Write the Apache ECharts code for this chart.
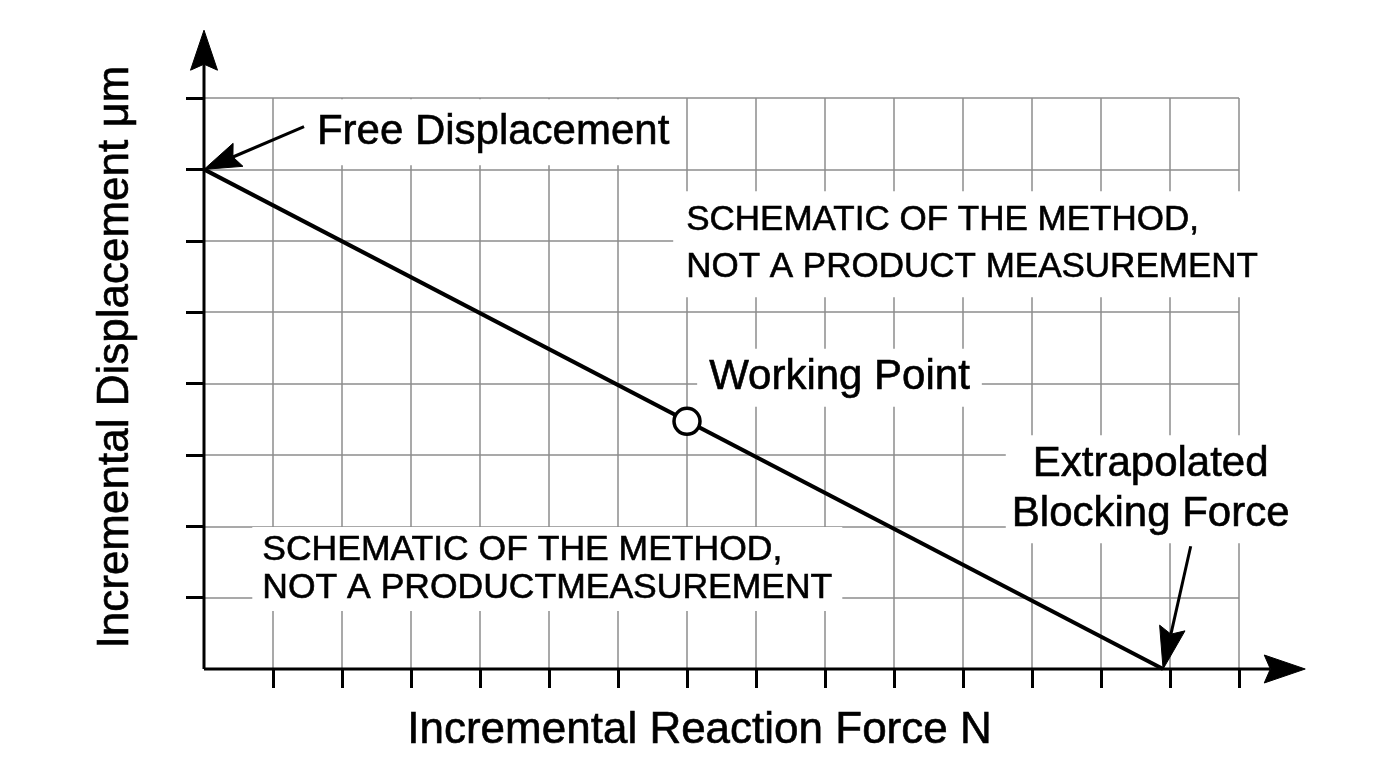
<!DOCTYPE html>
<html>
<head>
<meta charset="utf-8">
<script src="https://cdn.jsdelivr.net/npm/echarts@6/dist/echarts.min.js"></script>
<style>
html,body{margin:0;padding:0;background:#fff;}
#chart{width:1376px;height:768px;}
</style>
</head>
<body>
<div id="chart"></div>
<script>
// ---- data (in axis units) ----
const xTicks = [1,2,3,4,5,6,7,8,9,10,11,12,13,14,15];
const yTicks = [1,2,3,4,5,6,7,8];
const freeDisplacement = 7;      // y-intercept
const blockingForce = 13.9;      // x-intercept
const workingPoint = [7, 3.47];
const loadLineX = [0, blockingForce];
const loadLineY = [freeDisplacement, 0];

// arrows: [fromX, fromY, toX(tip), toY(tip)]
const xAxisArrow = [0, 0, 15.96, 0];
const yAxisArrow = [0, 0, 0, 8.95];
const freeArrow = [1.45, 7.6, 0, freeDisplacement];
const blockArrow = [14.3, 1.72, blockingForce, 0];

const labelTexts = {
  free: 'Free Displacement',
  note1: 'SCHEMATIC OF THE METHOD,\nNOT A PRODUCT MEASUREMENT',
  working: 'Working Point',
  blocking: 'Extrapolated\nBlocking Force',
  note2: 'SCHEMATIC OF THE METHOD,\nNOT A PRODUCTMEASUREMENT'
};
const labelAnchors = {
  free: [4.19, 7.52],
  note1: [6.8, 5.95],
  working: [9.21, 4.08],
  blocking: [13.72, 2.52],
  note2: [0.7, 1.40]
};

// ---- styles ----
const FONT = '"Liberation Sans", Arial, Helvetica, sans-serif';
const arrowStyles = [
  {head: 41, width: 28, lw: 3},   // x axis
  {head: 40, width: 27, lw: 3},   // y axis
  {head: 37, width: 25, lw: 3},   // free displacement pointer
  {head: 42, width: 26, lw: 3}    // blocking force pointer
];

const chart = echarts.init(document.getElementById('chart'), null, {renderer: 'canvas'});

function textLabel(key, align, lineHeight, fontSize, padding) {
  return {
    value: labelAnchors[key],
    label: {
      show: true,
      position: 'inside',
      formatter: labelTexts[key],
      align: align,
      verticalAlign: 'middle',
      fontFamily: FONT,
      fontSize: fontSize,
      lineHeight: lineHeight,
      color: '#000',
      textBorderColor: '#000',
      textBorderWidth: 0.6,
      backgroundColor: '#fff',
      padding: padding
    }
  };
}

function renderArrow(params, api) {
  const st = arrowStyles[params.dataIndex];
  const p0 = api.coord([api.value(0), api.value(1)]);
  const p1 = api.coord([api.value(2), api.value(3)]);
  const dx = p1[0] - p0[0], dy = p1[1] - p0[1];
  const L = Math.sqrt(dx * dx + dy * dy);
  const ux = dx / L, uy = dy / L;
  const nx = -uy, ny = ux;
  const bx = p1[0] - ux * st.head, by = p1[1] - uy * st.head;
  const mx = p1[0] - ux * st.head * 0.85, my = p1[1] - uy * st.head * 0.85;
  const hw = st.width / 2;
  return {
    type: 'group',
    children: [
      {
        type: 'line',
        shape: {x1: p0[0], y1: p0[1], x2: mx, y2: my},
        style: {stroke: '#000', lineWidth: st.lw}
      },
      {
        type: 'polygon',
        shape: {points: [
          [p1[0], p1[1]],
          [bx + nx * hw, by + ny * hw],
          [mx, my],
          [bx - nx * hw, by - ny * hw]
        ]},
        style: {fill: '#000', stroke: '#000', lineWidth: 1}
      }
    ]
  };
}

const option = {
  animation: false,
  backgroundColor: '#fff',
  grid: {left: 204, right: 137, top: 98, bottom: 99, containLabel: false},
  xAxis: {
    type: 'value', min: 0, max: 15, interval: 1,
    name: 'Incremental Reaction Force N',
    nameLocation: 'middle', nameGap: 40,
    nameTextStyle: {fontFamily: FONT, fontSize: 44, color: '#000', padding: [0, 44, 0, 0],
      textBorderColor: '#000', textBorderWidth: 0.6},
    axisLine: {show: false},
    axisTick: {show: true, inside: false, length: 19, customValues: xTicks,
      lineStyle: {color: '#000', width: 3}},
    axisLabel: {show: false},
    splitLine: {show: true, lineStyle: {color: '#8c8c8c', width: 1.5}}
  },
  yAxis: {
    type: 'value', min: 0, max: 8, interval: 1,
    name: 'Incremental Displacement \u03bcm',
    nameLocation: 'middle', nameGap: 66, nameRotate: 90,
    nameTextStyle: {fontFamily: FONT, fontSize: 44, color: '#000', padding: [0, 0, 0, 53],
      textBorderColor: '#000', textBorderWidth: 0.6},
    axisLine: {show: false},
    axisTick: {show: true, inside: false, length: 18, customValues: yTicks,
      lineStyle: {color: '#000', width: 3}},
    axisLabel: {show: false},
    splitLine: {show: true, lineStyle: {color: '#8c8c8c', width: 1.5}}
  },
  series: [
    {
      name: 'labels',
      type: 'scatter',
      symbolSize: 0,
      silent: true,
      z: 3,
      itemStyle: {opacity: 1},
      data: [
        textLabel('free', 'center', 50, 42, [8, 12]),
        textLabel('note1', 'left', 47, 35, [6, 13]),
        textLabel('working', 'center', 50, 42, [4, 12]),
        textLabel('blocking', 'center', 50, 42, [4, 6]),
        textLabel('note2', 'left', 38, 35.5, [4, 10])
      ]
    },
    {
      name: 'load line',
      type: 'line',
      z: 5,
      symbol: 'none',
      lineStyle: {color: '#000', width: 4},
      data: loadLineX.map((x, i) => [x, loadLineY[i]])
    },
    {
      name: 'arrows',
      type: 'custom',
      clip: false,
      silent: true,
      z: 6,
      renderItem: renderArrow,
      data: [xAxisArrow, yAxisArrow, freeArrow, blockArrow]
    },
    {
      name: 'working point',
      type: 'scatter',
      z: 7,
      symbol: 'circle',
      symbolSize: 26,
      itemStyle: {color: '#fff', borderColor: '#000', borderWidth: 3.5, opacity: 1},
      data: [workingPoint]
    }
  ]
};
chart.setOption(option);
</script>
</body>
</html>
